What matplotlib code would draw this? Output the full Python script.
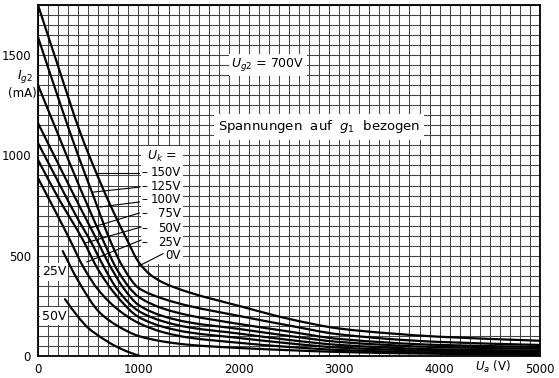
import numpy as np
import matplotlib
matplotlib.use("Agg")
import matplotlib.pyplot as plt
from matplotlib.path import Path
from matplotlib.patches import PathPatch, Rectangle

plt.rcParams["font.family"] = ["DejaVu Sans"]
plt.rcParams["mathtext.fontset"] = "dejavusans"

# Screen-grid current I_g2 (mA) versus anode voltage U_a (V), U_g2 = 700 V,
# one curve per cathode voltage U_k (referred to g1).
ua_m150 = [0, 200, 420, 600, 750, 886, 1000, 1120, 1250, 1500, 2000, 2500, 3000, 3500, 4000, 5000]
ig2_m150 = [1750, 1445, 1115, 890, 720, 580, 470, 405, 365, 318, 250, 185, 137, 113, 96, 76]

ua_m125 = [0, 209, 400, 550, 717, 850, 1000, 1250, 1500, 2000, 2500, 3000, 4000, 5000]
ig2_m125 = [1590, 1276, 1000, 800, 578, 440, 340, 285, 250, 200, 152, 108, 70, 55]

ua_m100 = [0, 200, 400, 647, 800, 1000, 1250, 1500, 2000, 2500, 3000, 4000, 5000]
ig2_m100 = [1351, 1105, 860, 578, 420, 296, 236, 203, 160, 122, 85, 55, 45]

ua_m75 = [0, 200, 400, 587, 700, 850, 1000, 1250, 1500, 2000, 2500, 3000, 4000, 5000]
ig2_m75 = [1161, 960, 760, 578, 465, 340, 255, 198, 168, 135, 100, 70, 44, 36]

ua_m50 = [0, 200, 400, 518, 650, 800, 1000, 1250, 1500, 2000, 2500, 3000, 4000, 5000]
ig2_m50 = [1062, 870, 680, 578, 450, 325, 225, 172, 143, 112, 80, 55, 33, 26]

ua_m25 = [0, 200, 448, 600, 800, 1000, 1250, 1500, 2000, 2500, 3000, 4000, 5000]
ig2_m25 = [978, 790, 578, 430, 290, 195, 145, 118, 90, 63, 42, 25, 19]

ua_0 = [0, 200, 319, 450, 600, 800, 1000, 1250, 1500, 2000, 2500, 3000, 4000, 5000]
ig2_0 = [887, 695, 578, 445, 330, 230, 165, 118, 92, 66, 45, 30, 17, 12]

ua_p25 = [246, 400, 618, 800, 1000, 1250, 1500, 2000, 2500, 3000, 4000, 5000]
ig2_p25 = [523, 375, 215, 148, 100, 72, 56, 40, 29, 20, 11, 6]

ua_p50 = [269, 400, 500, 618, 750, 900, 1016]
ig2_p50 = [283, 195, 140, 96, 55, 20, 0]

x_ticks = [0, 1000, 2000, 3000, 4000, 5000]
y_ticks = [0, 500, 1000, 1500]
uk_labels = ["150V", "125V", "100V", "75V", "50V", "25V", "0V"]


def smooth_curve(x, y):
    """Monotone cubic (PCHIP-style) Bezier path through the given points."""
    x = np.asarray(x, float)
    y = np.asarray(y, float)
    h = np.diff(x)
    d = np.diff(y) / h
    m = np.empty_like(x)
    m[0], m[-1] = d[0], d[-1]
    for k in range(1, len(x) - 1):
        if d[k - 1] * d[k] <= 0:
            m[k] = 0.0
        else:
            w1 = 2 * h[k] + h[k - 1]
            w2 = h[k] + 2 * h[k - 1]
            m[k] = (w1 + w2) / (w1 / d[k - 1] + w2 / d[k])
    verts = [(x[0], y[0])]
    codes = [Path.MOVETO]
    for k in range(len(x) - 1):
        verts += [(x[k] + h[k] / 3, y[k] + m[k] * h[k] / 3),
                  (x[k + 1] - h[k] / 3, y[k + 1] - m[k + 1] * h[k] / 3),
                  (x[k + 1], y[k + 1])]
        codes += [Path.CURVE4] * 3
    return Path(verts, codes)


fig = plt.figure(figsize=(5.59, 3.78), dpi=100)
ax = fig.add_axes([38 / 559, 22 / 378, 502 / 559, 351 / 378])
ax.set_xlim(0, 5000)
ax.set_ylim(0, 1750)

ax.set_xticks(x_ticks)
ax.set_yticks(y_ticks)
ax.set_xticks(np.arange(0, 5001, 100), minor=True)
ax.set_yticks(np.arange(0, 1751, 50), minor=True)
ax.tick_params(which="both", length=0)
ax.tick_params(axis="x", pad=5, labelsize=8.5)
ax.tick_params(axis="y", pad=5, labelsize=8.5)
ax.set_axisbelow(True)
ax.grid(which="both", color="#444444", lw=0.75)
for s in ax.spines.values():
    s.set_linewidth(1.3)
    s.set_color("black")

curves = [(ua_m150, ig2_m150), (ua_m125, ig2_m125), (ua_m100, ig2_m100),
          (ua_m75, ig2_m75), (ua_m50, ig2_m50), (ua_m25, ig2_m25),
          (ua_0, ig2_0), (ua_p25, ig2_p25), (ua_p50, ig2_p50)]
for ua, ig in curves:
    ax.add_patch(PathPatch(smooth_curve(ua, ig), fill=False, ec="black",
                           lw=1.6, capstyle="round", zorder=3))

# white panel behind the U_k legend column
ax.add_patch(Rectangle((1026, 459), 420, 590, fc="white", ec="none", zorder=1))

ax.text(1085, 994, r"$U_k$ =", fontsize=9, va="center", ha="left", zorder=4)

label_y = [917, 847, 778, 708, 638, 568, 499]
pointer_start = [(588, 912), (548, 817), (618, 743), (518, 638),
                 (468, 563), (488, 469), (986, 444)]
pointer_end = [(1010, 912), (1010, 842), (1010, 768), (1010, 713),
               (1026, 643), (1026, 578), (1245, 510)]
for lab, ly, p0, p1 in zip(uk_labels, label_y, pointer_start, pointer_end):
    ax.plot([p0[0], p1[0]], [p0[1], p1[1]], color="black", lw=0.8, zorder=4)
    if lab != "0V":
        ax.text(1030, ly, "–", fontsize=8.5, va="center", ha="left", zorder=4)
    ax.text(1424, ly, lab, fontsize=8.5, va="center", ha="right", zorder=4)

box = dict(fc="white", ec="none", pad=1.5)
ax.text(159, 419, "25V", fontsize=9, va="center", ha="center", bbox=box, zorder=4)
ax.text(159, 199, "50V", fontsize=9, va="center", ha="center", bbox=box, zorder=4)
ax.text(2291, 1451, r"$U_{g2}$ = 700V", fontsize=9, va="center", ha="center",
        bbox=box, zorder=4)
ax.text(2799, 1142, r"Spannungen  auf  $g_1$  bezogen", fontsize=9.5, va="center",
        ha="center", bbox=dict(fc="white", ec="none", pad=3), zorder=4)

ax.text(4532, -55, r"$U_a$ (V)", fontsize=8.5, va="center", ha="center",
        clip_on=False, bbox=dict(fc="white", ec="none", pad=0.5))
fig.text(25 / 559, 1 - 77 / 378, r"$I_{g2}$", fontsize=9, ha="center", va="center")
fig.text(22 / 559, 1 - 94 / 378, "(mA)", fontsize=8.5, ha="center", va="center")

fig.savefig("out.png", dpi=100)
